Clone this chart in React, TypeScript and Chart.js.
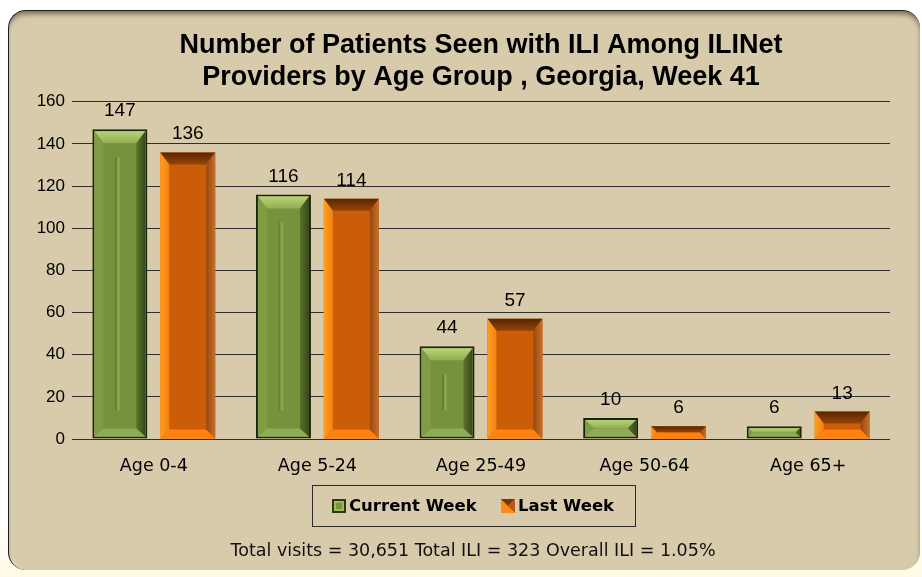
import React, { useEffect, useRef } from "react";
import { Chart, registerables } from "chart.js";

Chart.register(...registerables);

const categories = ["Age 0-4", "Age 5-24", "Age 25-49", "Age 50-64", "Age 65+"];
const currentWeek = [147, 116, 44, 10, 6];
const lastWeek = [136, 114, 57, 6, 13];
const seriesNames = ["Current Week", "Last Week"];
const titleLines = [
  "Number of Patients Seen with ILI Among ILINet",
  "Providers by Age Group , Georgia, Week 41",
];
const footerText = "Total visits = 30,651 Total ILI = 323 Overall ILI = 1.05%";
const yMin = 0;
const yMax = 160;
const yStep = 20;

const GREEN = "#76923c";
const ORANGE = "#cb5c08";

function poly(ctx: CanvasRenderingContext2D, pts: number[][], fill: string | CanvasGradient) {
  ctx.beginPath();
  ctx.moveTo(pts[0][0], pts[0][1]);
  for (let i = 1; i < pts.length; i++) ctx.lineTo(pts[i][0], pts[i][1]);
  ctx.closePath();
  ctx.fillStyle = fill;
  ctx.fill();
}

const bevelPlugin = {
  id: "bevelAndLabels",
  afterDatasetsDraw(chart: any) {
    const ctx: CanvasRenderingContext2D = chart.ctx;
    chart.data.datasets.forEach((ds: any, di: number) => {
      const meta = chart.getDatasetMeta(di);
      meta.data.forEach((el: any, i: number) => {
        const inset = di === 0 ? 2 : 0;
        const L = el.x - el.width / 2 + inset;
        const R = el.x + el.width / 2 - inset;
        const T = el.y + inset;
        const B = el.base - inset;
        const h = B - T;
        const w = R - L;
        if (h <= 0) return;
        const b = Math.min(12, h / 2, w / 4);
        const bs = Math.min(9, h / 2, w / 5);
        ctx.save();
        if (di === 0) {
          const tg = ctx.createLinearGradient(0, T, 0, T + b);
          tg.addColorStop(0, "#b8d478");
          tg.addColorStop(1, "#92ae52");
          poly(ctx, [[L, T], [R, T], [R - bs, T + b], [L + bs, T + b]], tg);
          poly(ctx, [[L, B], [R, B], [R - bs, B - Math.min(8, h / 2)], [L + bs, B - Math.min(8, h / 2)]], "#8fab55");
          poly(ctx, [[L, T], [L + bs, T + b], [L + bs, B - Math.min(8, h / 2)], [L, B]], "#809d45");
          const rg = ctx.createLinearGradient(R - bs, 0, R, 0);
          rg.addColorStop(0, "#5a722a");
          rg.addColorStop(1, "#38481a");
          poly(ctx, [[R, T], [R - bs, T + b], [R - bs, B - Math.min(8, h / 2)], [R, B]], rg);
          if (h > 60) {
            const cx = el.x - 3;
            ctx.fillStyle = "#66812f";
            ctx.fillRect(cx - 2, T + 26, 2, h - 52);
            ctx.fillStyle = "#8aa54e";
            ctx.fillRect(cx, T + 26, 3, h - 52);
          }
        } else {
          const tg = ctx.createLinearGradient(0, T, 0, T + b);
          tg.addColorStop(0, "#5a2602");
          tg.addColorStop(1, "#954507");
          poly(ctx, [[L, T], [R, T], [R - bs, T + b], [L + bs, T + b]], tg);
          const bb = Math.min(9, h / 2);
          poly(ctx, [[L, B], [R, B], [R - bs, B - bb], [L + bs, B - bb]], "#ff820f");
          const lg = ctx.createLinearGradient(L, 0, L + bs, 0);
          lg.addColorStop(0, "#ff9e20");
          lg.addColorStop(1, "#f3820f");
          poly(ctx, [[L, T], [L + bs, T + b], [L + bs, B - bb], [L, B]], lg);
          const rg = ctx.createLinearGradient(R - bs, 0, R, 0);
          rg.addColorStop(0, "#984810");
          rg.addColorStop(1, "#c8702c");
          poly(ctx, [[R, T], [R - bs, T + b], [R - bs, B - bb], [R, B]], rg);
        }
        ctx.restore();
      });
    });
    // value labels
    ctx.save();
    ctx.font = "19px 'Liberation Sans', Arial, sans-serif";
    ctx.fillStyle = "#000";
    ctx.textAlign = "center";
    ctx.textBaseline = "alphabetic";
    chart.data.datasets.forEach((ds: any, di: number) => {
      const meta = chart.getDatasetMeta(di);
      meta.data.forEach((el: any, i: number) => {
        ctx.fillText(String(ds.data[i]), el.x, el.y - 13);
      });
    });
    ctx.restore();
  },
  afterDraw(chart: any) {
    const ctx: CanvasRenderingContext2D = chart.ctx;
    const area = chart.chartArea;
    const cx = (area.left + area.right) / 2 - 8;
    ctx.save();
    // legend
    ctx.font = "bold 16.5px 'DejaVu Sans', Verdana, sans-serif";
    const names = chart.data.datasets.map((d: any) => d.label);
    const box = 14;
    const gapBoxText = 3;
    const gapItems = 24;
    const widths = names.map((n: string) => ctx.measureText(n).width);
    const total = widths.reduce((a: number, w: number) => a + box + gapBoxText + w, 0) + gapItems * (names.length - 1);
    const legW = 323;
    const legH = 41;
    const legTop = area.bottom + 46;
    const legLeft = cx - legW / 2;
    ctx.strokeStyle = "#2a2a2a";
    ctx.lineWidth = 1;
    ctx.strokeRect(Math.round(legLeft) + 0.5, Math.round(legTop) + 0.5, legW, legH);
    let x = cx - total / 2;
    const my = legTop + legH / 2;
    names.forEach((n: string, i: number) => {
      const bx = Math.round(x);
      const by = Math.round(my - box / 2);
      if (i === 0) {
        ctx.fillStyle = "#2c3a12";
        ctx.fillRect(bx, by, box, box);
        ctx.fillStyle = "#9cba5c";
        ctx.fillRect(bx + 2, by + 2, box - 4, box - 4);
        ctx.fillStyle = GREEN;
        ctx.fillRect(bx + 4, by + 4, box - 8, box - 8);
      } else {
        ctx.fillStyle = "#ff8a14";
        ctx.fillRect(bx, by, box, box);
        poly(ctx, [[bx, by], [bx + box, by], [bx + box / 2, by + box / 2]], "#7a3404");
        poly(ctx, [[bx + box, by], [bx + box, by + box], [bx + box / 2, by + box / 2]], "#b35a18");
      }
      ctx.fillStyle = "#000";
      ctx.textAlign = "left";
      ctx.textBaseline = "middle";
      ctx.fillText(n, bx + box + gapBoxText, my + 1);
      x += box + gapBoxText + widths[i] + gapItems;
    });
    // footer
    ctx.font = "17.5px 'DejaVu Sans', Verdana, sans-serif";
    ctx.textAlign = "center";
    ctx.textBaseline = "middle";
    ctx.fillStyle = "#111";
    ctx.fillText(footerText, cx, legTop + legH + 25);
    ctx.restore();
  },
};

export default function App() {
  const ref = useRef<HTMLCanvasElement | null>(null);
  useEffect(() => {
    if (!ref.current) return;
    const chart = new Chart(ref.current, {
      type: "bar",
      data: {
        labels: categories,
        datasets: [
          {
            label: seriesNames[0],
            data: currentWeek,
            backgroundColor: GREEN,
            borderColor: "#1c230c",
            borderWidth: 2,
            borderSkipped: false,
            categoryPercentage: 0.83,
            barPercentage: 0.81,
          },
          {
            label: seriesNames[1],
            data: lastWeek,
            backgroundColor: ORANGE,
            borderWidth: 0,
            categoryPercentage: 0.83,
            barPercentage: 0.81,
          },
        ],
      },
      options: {
        responsive: false,
        animation: false,
        devicePixelRatio: 1,
        layout: { padding: { left: 22, right: 32, top: 0, bottom: 98 } },
        plugins: {
          legend: { display: false },
          tooltip: { enabled: false },
          title: {
            display: true,
            text: titleLines,
            color: "#000",
            fullSize: false,
            font: { family: "'Liberation Sans', Arial, sans-serif", size: 27, weight: "bold", lineHeight: 1.2 },
            padding: { top: 29, bottom: 8 },
          },
        },
        scales: {
          x: {
            grid: { display: false, drawTicks: false },
            border: { display: false },
            ticks: {
              color: "#000",
              font: { family: "'DejaVu Sans', Verdana, sans-serif", size: 17.5 },
              padding: 17,
            },
            afterFit: (s: any) => {
              s.height = 40;
            },
          },
          y: {
            min: yMin,
            max: yMax,
            ticks: {
              stepSize: yStep,
              color: "#000",
              font: { family: "'Liberation Sans', Arial, sans-serif", size: 17 },
              padding: 7,
            },
            grid: { color: "#2e2e2e", lineWidth: 1, drawTicks: false },
            border: { display: false },
            afterFit: (s: any) => {
              s.width = 50;
            },
          },
        },
      },
      plugins: [bevelPlugin],
    });
    return () => chart.destroy();
  }, []);

  return (
    <div
      style={{
        position: "absolute",
        left: 0,
        top: 0,
        width: 922,
        height: 577,
        overflow: "hidden",
        background: "linear-gradient(#ffffff 0%, #ffffff 90%, #fffbe4 100%)",
      }}
    >
      <div
        style={{
          position: "absolute",
          left: 8,
          top: 10,
          width: 912,
          height: 560,
          boxSizing: "border-box",
          borderRadius: 18,
          background: "#d8cbab",
          borderTop: "1px solid #1e1e1e",
          borderLeft: "1px solid #1e1e1e",
          boxShadow: "inset 0 4px 5px -1px rgba(40,30,10,0.55), inset 4px 0 5px -2px rgba(255,255,255,0.35)",
        }}
      />
      <canvas
        ref={ref}
        width={922}
        height={577}
        style={{ position: "absolute", left: 0, top: 0, width: 922, height: 577 }}
      />
    </div>
  );
}
